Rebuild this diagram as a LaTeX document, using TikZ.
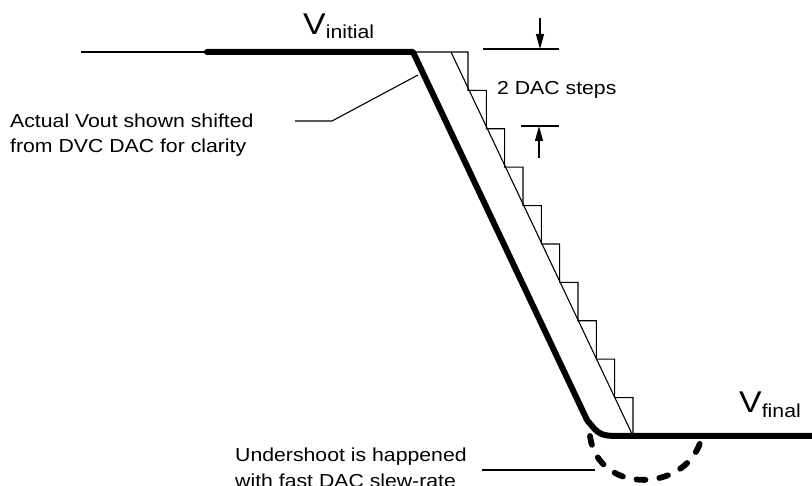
\documentclass[tikz,border=0pt]{standalone}
\usepackage{fontspec}
\setmainfont{Liberation Sans}[FakeStretch=1.13]
\usetikzlibrary{arrows.meta}
\begin{document}
\begin{tikzpicture}[x=1pt,y=-1pt,
  thinline/.style={line width=1.1pt},
  thickline/.style={line width=6pt, line cap=round, line join=round},
  lbl/.style={inner sep=0pt, align=left, font=\fontsize{18.8}{25}\selectfont},
  dimarrow/.style={line width=1.1pt, -{Triangle[length=15pt,width=8pt]}},
  undershoot/.style={line width=5.8pt, line cap=round, dash pattern=on 9pt off 14pt}]
\useasboundingbox (0,0) rectangle (812,486);
% key points
\coordinate (start) at (81,52);
\coordinate (thickstart) at (207,52);
\coordinate (corner) at (413,52);
\coordinate (bend) at (587,420);
\coordinate (settle) at (625,436);
\coordinate (end) at (812,436);
% DAC staircase and ideal ramp
\draw[thinline] (corner) -- (468,52)
  \foreach \k in {1,...,9} { |- ({468+18.333*\k},{52+38.4*\k}) } -- (633,436);
\coordinate (rampTop) at (451,52);
\coordinate (rampBot) at (633,436);
\draw[thinline] (rampTop) -- (rampBot);
% actual Vout
\draw[thinline] (start) -- (thickstart);
\draw[thickline] (thickstart) -- (corner) -- (bend) .. controls (600,436) .. (settle) -- (end);
% undershoot
\coordinate (usA) at (590,436);
\coordinate (usB) at (702,436);
\draw[undershoot] (usA) .. controls (598,496) and (690,493) .. (usB);
% labels
\node[inner sep=0pt, anchor=base west] (vinit) at (303,35)
  {\fontsize{30}{30}\selectfont V\raisebox{-4pt}{\fontsize{18.8}{20}\selectfont initial}};
\node[inner sep=0pt, anchor=base west] (vfinal) at (739,413)
  {\fontsize{30}{30}\selectfont V\raisebox{-5pt}{\fontsize{18.8}{20}\selectfont final}};
\node[lbl, anchor=base west] (steps) at (497,95) {2 DAC steps};
\node[lbl, anchor=base west] (shift) at (10,153) {Actual Vout shown shifted\\from DVC DAC for clarity};
\node[lbl, anchor=base west] (under) at (235,487) {Undershoot is happened\\with fast DAC slew-rate};
% dimension marks
\coordinate (t1) at (483,49); \coordinate (t2) at (559,49);
\coordinate (b1) at (521,126); \coordinate (b2) at (559,126);
\draw[thinline] (t1) -- (t2);
\draw[thinline] (b1) -- (b2);
\coordinate (ta) at (540,18); \coordinate (tb) at (540,49);
\coordinate (ba) at (539,158); \coordinate (bb) at (539,126);
\draw[dimarrow] (ta) -- (tb);
\draw[dimarrow] (ba) -- (bb);
% leaders
\coordinate (l1a) at (295,121); \coordinate (l1b) at (332,121); \coordinate (l1c) at (418,75);
\draw[thinline] (l1a) -- (l1b) -- (l1c);
\coordinate (l2a) at (482,470); \coordinate (l2b) at (595,470);
\draw[thinline] (l2a) -- (l2b);
\end{tikzpicture}
\end{document}
